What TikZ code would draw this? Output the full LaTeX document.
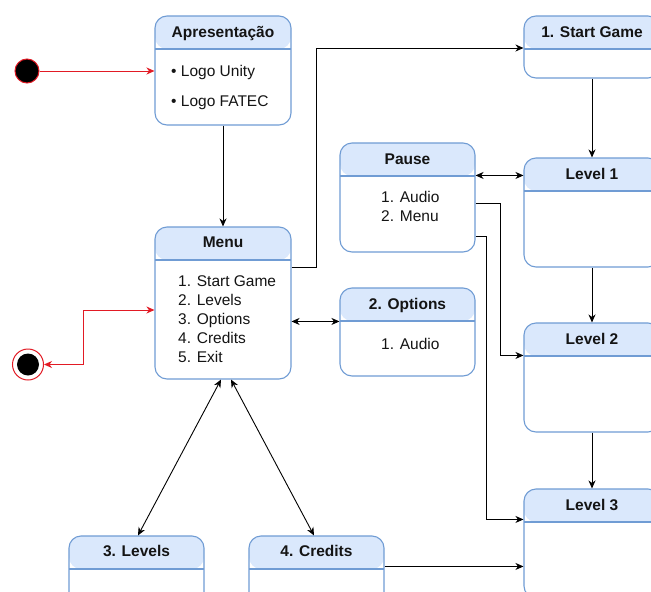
\documentclass[tikz,border=0pt]{standalone}
\usepackage{fontspec}
\setmainfont{Liberation Sans}
\usetikzlibrary{arrows.meta,calc}
\definecolor{boxblue}{RGB}{112,156,212}
\definecolor{hdrblue}{RGB}{218,232,252}
\definecolor{umlred}{RGB}{226,26,36}
\definecolor{txt}{RGB}{20,20,20}
\tikzset{
  stbox/.style={draw=boxblue, line width=1.1pt, rounded corners=12pt, fill=white,
    minimum width=136pt, inner sep=0pt,
    path picture={
      \fill[hdrblue] (path picture bounding box.north west) rectangle ([yshift=-33pt]path picture bounding box.north east);
      \draw[boxblue, line width=1.1pt] ([yshift=-33pt]path picture bounding box.north west) -- ([yshift=-33pt]path picture bounding box.north east);
    }},
  hdr/.style={anchor=base, inner sep=0pt, font=\fontsize{15.5}{19}\selectfont\bfseries, text=txt},
  body/.style={anchor=base west, inner sep=0pt, font=\fontsize{15.5}{19}\selectfont, text=txt},
  arr/.style={draw=black, line width=0.9pt, -{Stealth[length=8pt,width=7pt,inset=2.5pt]}},
  darr/.style={draw=black, line width=0.9pt, {Stealth[length=8pt,width=7pt,inset=2.5pt]}-{Stealth[length=8pt,width=7pt,inset=2.5pt]}},
  redarr/.style={draw=umlred, line width=1pt, -{Stealth[length=8pt,width=7pt,inset=2.5pt]}},
  dredarr/.style={draw=umlred, line width=1pt, {Stealth[length=8pt,width=7pt,inset=2.5pt]}-{Stealth[length=8pt,width=7pt,inset=2.5pt]}},
}
\begin{document}
\begin{tikzpicture}[x=1pt,y=-1pt]
\clip (0,0) rectangle (651,592);
\fill[white] (0,0) rectangle (651,592);

% boxes
\node[stbox, minimum height=109pt] (apr) at (223,70.5) {};
\node[stbox, minimum height=152pt] (menu) at (223,303) {};
\node[stbox, minimum height=62pt] (sg) at (592,47) {};
\node[stbox, minimum height=109pt] (l1) at (592,212.5) {};
\node[stbox, minimum width=135pt, minimum height=109pt] (pause) at (407.5,197.5) {};
\node[stbox, minimum width=135pt, minimum height=88pt] (opt) at (407.5,332) {};
\node[stbox, minimum height=109pt] (l2) at (592,377.5) {};
\node[stbox, minimum height=109pt] (l3) at (592,543.5) {};
\node[stbox, minimum width=135pt, minimum height=109pt] (lev) at (136.5,590.5) {};
\node[stbox, minimum width=135pt, minimum height=109pt] (cred) at (316.5,590.5) {};

% titles
\node[hdr] (aprT) at ([yshift=-22pt]apr.north) {Apresentação};
\node[hdr] (menuT) at ([yshift=-21pt]menu.north) {Menu};
\node[hdr] (sgT) at ([yshift=-22pt]sg.north) {1. Start Game};
\node[hdr] (l1T) at ([yshift=-22pt]l1.north) {Level 1};
\node[hdr] (pauseT) at ([yshift=-22pt]pause.north) {Pause};
\node[hdr] (optT) at ([yshift=-22pt]opt.north) {2. Options};
\node[hdr] (l2T) at ([yshift=-22pt]l2.north) {Level 2};
\node[hdr] (l3T) at ([yshift=-22pt]l3.north) {Level 3};
\node[hdr] (levT) at ([yshift=-21pt]lev.north) {3. Levels};
\node[hdr] (credT) at ([yshift=-21pt]cred.north) {4. Credits};

% body texts
\node[body] (apr1) at (171,76) {• Logo Unity};
\node[body] (apr2) at (171,106) {• Logo FATEC};
\node[body] (m1) at (178,286) {1. Start Game};
\node[body] (m2) at (178,305) {2. Levels};
\node[body] (m3) at (178,324) {3. Options};
\node[body] (m4) at (178,343) {4. Credits};
\node[body] (m5) at (178,362) {5. Exit};
\node[body] (p1) at (381,202.5) {1. Audio};
\node[body] (p2) at (381,221.5) {2. Menu};
\node[body] (o1) at (381,349) {1. Audio};

% initial and final states
\node[circle, fill=black, draw=umlred, line width=1pt, minimum size=24pt, inner sep=0pt] (init) at (27,71) {};
\node[circle, fill=white, draw=umlred, line width=1pt, minimum size=31pt, inner sep=0pt] (fin) at (28,364.5) {};
\node[circle, fill=black, minimum size=22pt, inner sep=0pt] (finin) at (fin.center) {};

% connectors
\draw[redarr] (init) -- (init -| apr.west);
\draw[dredarr] ([yshift=-7pt]menu.west) -- ++(-71,0) |- (fin.east);
\draw[arr] (apr) -- (menu);
\draw[arr] ([yshift=36pt]menu.east) -- ++(25,0) |- ([yshift=-1pt]sg.west);
\draw[arr] (sg) -- (l1);
\draw[arr] (l1) -- (l2);
\draw[arr] (l2) -- (l3);
\draw[darr] ([yshift=-33pt]pause.north east) coordinate (pa) -- (pa -| l1.west);
\draw[arr] ([yshift=-5.5pt]pause.east) -- ++(25,0) |- ([yshift=-33pt]l2.north west);
\draw[arr] ([yshift=-38.5pt]pause.east) -- ++(11,0) |- ([yshift=-31pt]l3.north west);
\draw[darr] ([yshift=-34pt]opt.north west) coordinate (oa) -- (oa -| menu.east);
\draw[darr] ([xshift=-2pt]menu.south) -- ([xshift=1.5pt]lev.north);
\draw[darr] ([xshift=8pt]menu.south) -- ([xshift=-2.5pt]cred.north);
\draw[arr] ([yshift=-31pt]cred.north east) coordinate (ca) -- (ca -| l3.west);
\end{tikzpicture}
\end{document}
